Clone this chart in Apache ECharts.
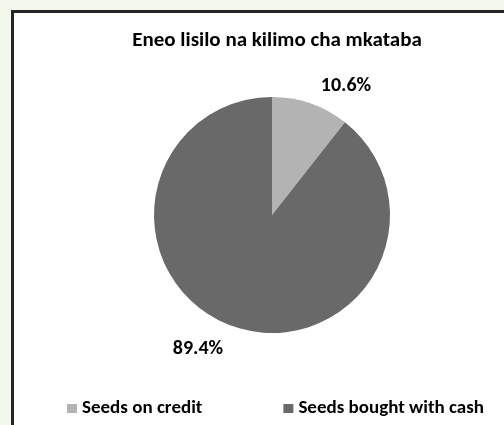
<!DOCTYPE html>
<html><head><meta charset="utf-8">
<script src="https://cdn.jsdelivr.net/npm/echarts@6/dist/echarts.min.js"></script>
<style>
html,body{margin:0;padding:0;width:504px;height:425px;background:#f3f8ec;overflow:hidden;}
#box{position:absolute;left:11px;top:10px;width:600px;height:500px;border:3px solid #262626;background:#fff;}
#chart{position:absolute;left:0;top:0;width:504px;height:425px;}
</style></head>
<body><div id="box"></div><div id="chart"></div>
<script>
const titleText = 'Eneo lisilo na kilimo cha mkataba';
const categories = ['Seeds on credit', 'Seeds bought with cash'];
const values = [10.6, 89.4];
const colors = ['#b3b3b3', '#696969'];

const chart = echarts.init(document.getElementById('chart'));
const font = 'Carlito, "Open Sans", "Liberation Sans", sans-serif';
chart.setOption({
  animation: false,
  title: { text: titleText, left: 272, top: 36, textAlign: 'center', textVerticalAlign: 'middle',
    textStyle: { fontFamily: font, fontWeight: 'bold', fontSize: 21, color: '#000' } },
  legend: {
    top: 399, left: 67, itemWidth: 10, itemHeight: 9, itemGap: 81,
    icon: 'rect', padding: 0,
    textStyle: { fontFamily: font, fontWeight: 'bold', fontSize: 19, color: '#000' },
    data: categories
  },
  series: [{
    type: 'pie',
    center: [272, 215],
    radius: 118,
    startAngle: 90,
    clockwise: true,
    data: categories.map((c, i) => ({ name: c, value: values[i], itemStyle: { color: colors[i] } })),
    label: { show: true, position: 'outside', formatter: p => p.value.toFixed(1) + '%',
      fontFamily: font, fontWeight: 'bold', fontSize: 20, color: '#000' },
    labelLine: { show: false, length: 10, length2: 0 },
    labelLayout: function (params) {
      if (params.dataIndex === 0) return { x: 346, y: 86, align: 'center', verticalAlign: 'middle' };
      return { x: 198, y: 349, align: 'center', verticalAlign: 'middle' };
    }
  }]
});
</script></body></html>
